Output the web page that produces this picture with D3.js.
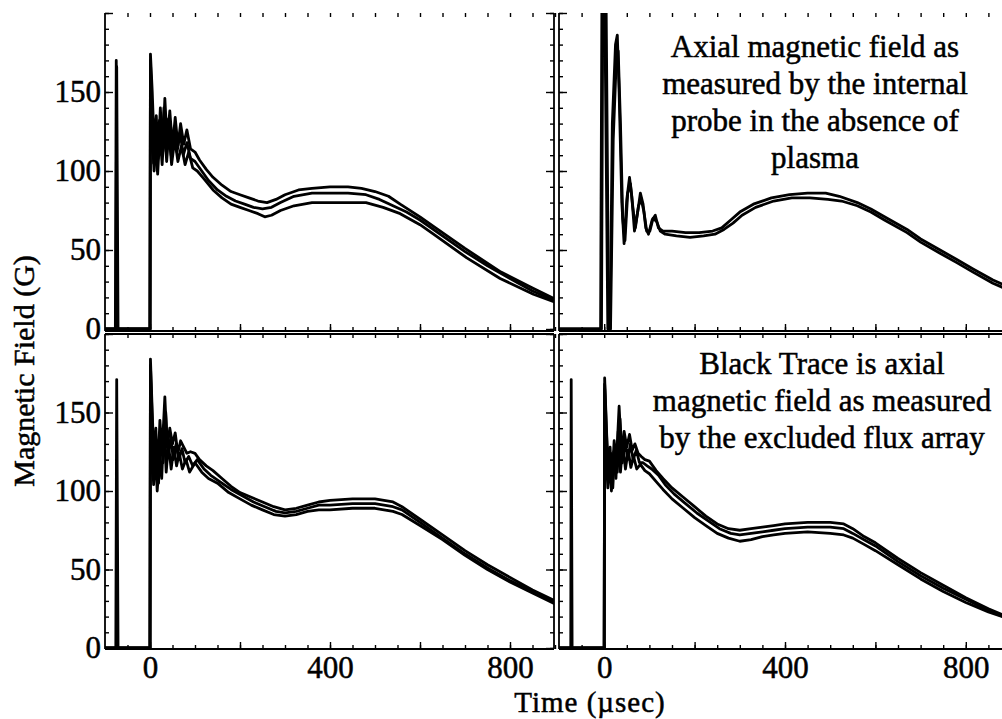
<!DOCTYPE html>
<html>
<head>
<meta charset="utf-8">
<script src="https://cdn.jsdelivr.net/npm/d3@7"></script>
<style>
  body { margin: 0; background: #fff; }
  svg { display: block; }
  .tick text { font-family: "Liberation Serif", "Times New Roman", serif; font-size: 31px; fill: #000; stroke: #000; stroke-width: 0.5; }
  .axis path { display: none; }
  .axis line { stroke: #000; stroke-width: 1.4; }
  .note { font-family: "Liberation Serif", "Times New Roman", serif; font-size: 31px; fill: #000; stroke: #000; stroke-width: 0.5; }
</style>
</head>
<body>
<div id="chart"></div>
<script>
// data: [time (usec), field (G)]
var yTicks = [0, 50, 100, 150];
var xTicks = [0, 400, 800];

var tlTraceA = [[-100,0],[-77,0],[-75,170],[-73,0],[0,0],[1,174],[5,150],[9,118],[14,135],[18,108],[23,140],[28,112],[33,146],[38,118],[44,138],[50,115],[56,134],[62,116],[68,130],[75,117],[82,126],[90,114],[100,112],[110,107],[125,101],[140,96],[160,91],[180,87],[200,85],[220,83],[240,81],[260,80],[280,82],[300,85],[330,88],[360,89],[400,90],[440,90],[470,89],[500,87],[530,84],[556,79],[600,71],[630,65],[700,51],[780,36],[850,26],[900,19]];
var tlTraceB = [[-100,0],[-76,0],[-74,166],[-71,0],[0,0],[1,170],[4,140],[8,105],[12,128],[16,100],[21,132],[26,110],[31,140],[36,112],[41,133],[47,110],[54,128],[60,112],[67,124],[74,110],[82,118],[90,108],[100,106],[115,100],[130,94],[150,88],[170,84],[190,81],[210,79],[230,77],[250,76],[270,77],[290,80],[320,84],[360,86],[400,86],[440,86],[480,85],[510,82],[540,78],[570,74],[600,69],[650,59],[700,49],[750,40],[800,32],[850,24],[900,18]];
var tlTraceC = [[-100,0],[0,0],[1,165],[5,125],[9,100],[13,120],[17,98],[22,125],[27,104],[32,130],[37,106],[42,125],[48,104],[55,120],[62,106],[70,116],[78,104],[86,112],[95,102],[105,100],[120,95],[140,88],[160,83],[180,79],[200,77],[220,75],[240,73],[255,71],[270,72],[290,75],[320,78],[360,80],[400,80],[440,80],[480,80],[518,77],[556,73],[600,66],[630,60],[704,45],[778,32],[852,22],[900,17]];

var trTraceA = [[-100,0],[-8,0],[-5,215],[1,215],[8,0],[13,0],[18,130],[25,180],[29,186],[33,150],[39,80],[44,54],[50,82],[56,96],[61,84],[67,62],[74,74],[80,86],[86,79],[92,64],[98,60],[106,69],[113,72],[120,64],[130,62],[150,62],[180,61],[210,61],[240,62],[260,64],[280,69],[300,74],[330,79],[370,83],[410,85],[450,86],[490,86],[520,84],[560,80],[590,76],[620,71],[670,63],[700,57],[743,50],[780,44],[816,38],[860,31],[900,26]];
var trTraceB = [[-100,0],[-6,0],[-3,215],[4,215],[10,0],[14,0],[20,120],[27,172],[31,176],[36,130],[41,70],[46,56],[52,86],[58,92],[63,78],[69,64],[76,78],[82,82],[88,74],[94,62],[101,62],[108,70],[116,68],[124,62],[135,60],[160,59],[190,58],[220,59],[245,60],[265,63],[285,67],[305,72],[335,77],[375,81],[415,83],[455,83],[495,82],[525,81],[560,78],[590,74],[620,69],[670,61],[700,55],[743,48],[780,42],[816,36],[860,29],[900,24]];

var blTraceA = [[-100,0],[-76,0],[-74,171],[-71,0],[0,0],[1,184],[5,150],[9,118],[13,140],[17,110],[22,145],[27,125],[33,160],[38,128],[44,140],[50,130],[56,137],[62,124],[68,132],[75,128],[82,124],[90,125],[100,124],[110,120],[125,116],[140,113],[160,108],[180,103],[200,99],[225,96],[250,93],[275,90],[300,88],[325,89],[350,91],[375,93],[400,94],[450,95],[500,95],[540,93],[560,90],[600,82],[650,72],[700,62],[750,53],[800,45],[850,37],[900,30]];
var blTraceB = [[-100,0],[0,0],[1,176],[4,130],[8,104],[12,125],[16,100],[21,120],[26,108],[31,142],[36,112],[41,130],[47,114],[53,128],[59,116],[65,124],[72,114],[80,120],[88,112],[100,118],[115,112],[130,108],[150,105],[175,99],[200,95],[225,91],[250,88],[275,85],[300,84],[325,85],[350,87],[375,88],[400,88],[450,89],[500,89],[540,87],[560,85],[600,78],[650,69],[700,59],[750,50],[800,42],[850,35],[900,28]];
var blTraceC = [[-100,0],[0,0],[1,180],[6,135],[10,112],[15,132],[19,105],[24,138],[29,118],[35,150],[40,122],[46,134],[52,120],[58,130],[64,120],[71,127],[78,118],[86,122],[95,116],[105,120],[120,114],[135,110],[155,106],[180,101],[205,97],[230,93],[255,90],[280,87],[300,86],[325,87],[350,89],[375,91],[400,91],[450,92],[500,92],[540,90],[560,88],[600,80],[650,70],[700,60],[750,51],[800,43],[850,36],[900,29]];

var brTraceA = [[-100,0],[-74,0],[-73,171],[-71,0],[0,0],[1,172],[5,140],[9,110],[13,128],[17,104],[22,132],[27,118],[33,154],[38,125],[44,138],[50,128],[56,136],[62,126],[68,130],[75,124],[82,122],[90,120],[100,119],[115,113],[130,108],[150,102],[175,96],[200,90],[225,84],[250,79],[275,76],[300,75],[325,76],[350,77],[375,78],[400,79],[450,80],[500,80],[530,79],[550,76],[575,71],[600,67],[650,57],[700,48],[750,40],[800,32],[850,25],[900,19]];
var brTraceB = [[-100,0],[0,0],[1,165],[4,125],[8,102],[12,120],[16,100],[21,125],[26,108],[31,138],[36,112],[41,130],[47,114],[53,126],[59,115],[65,122],[72,114],[80,117],[90,113],[100,111],[115,106],[130,101],[150,95],[175,89],[200,83],[225,78],[250,73],[275,70],[300,68],[325,69],[350,71],[375,72],[400,73],[450,74],[500,73],[530,72],[550,70],[575,66],[600,62],[650,53],[700,44],[750,36],[800,29],[850,23],[900,18]];
var brTraceC = [[-100,0],[0,0],[1,168],[6,130],[10,106],[15,124],[19,102],[24,128],[29,112],[35,146],[40,118],[46,132],[52,120],[58,130],[64,120],[71,126],[78,118],[86,118],[95,116],[105,114],[120,110],[135,104],[155,98],[180,92],[205,86],[230,81],[255,76],[280,73],[300,72],[325,73],[350,74],[375,75],[400,76],[450,77],[500,77],[530,76],[550,73],[575,69],[600,65],[650,55],[700,46],[750,38],[800,31],[850,24],[900,18]];

var noteTop = ["Axial magnetic field as", "measured by the internal", "probe in the absence of", "plasma"];
var noteBottom = ["Black Trace is axial", "magnetic field as measured", "by the excluded flux array"];

var svgWidth = 1002;
var svgHeight = 719;

var svg = d3.select("#chart")
    .append("svg")
    .attr("width", svgWidth)
    .attr("height", svgHeight);

// panel layout (pixels)
var panels = [
    { id: "tl", left: 105, right: 555, top: 13, bottom: 329, frameBottom: 331, traces: [tlTraceA, tlTraceB, tlTraceC], yLabels: true, xLabels: false, topFrame: false },
    { id: "tr", left: 559, right: 1011, top: 13, bottom: 329, frameBottom: 331, traces: [trTraceA, trTraceB], yLabels: false, xLabels: false, topFrame: false },
    { id: "bl", left: 105, right: 555, top: 334, bottom: 648, frameBottom: 649, traces: [blTraceA, blTraceB, blTraceC], yLabels: true, xLabels: true, topFrame: true },
    { id: "br", left: 559, right: 1011, top: 334, bottom: 648, frameBottom: 649, traces: [brTraceA, brTraceB, brTraceC], yLabels: false, xLabels: true, topFrame: true }
];

panels.forEach(function (p) {
    var x = d3.scaleLinear().domain([-100, 900]).range([p.left, p.right]);
    var y = d3.scaleLinear().domain([0, 200]).range([p.bottom, p.top]);
    var frameRight = p.left === 105 ? 554 : 1011;

    var g = svg.append("g");

    svg.append("clipPath")
        .attr("id", "clip-" + p.id)
        .append("rect")
        .attr("x", p.left)
        .attr("y", p.top)
        .attr("width", frameRight - p.left)
        .attr("height", p.frameBottom - p.top);

    // frame
    g.append("line").attr("x1", p.left).attr("x2", p.left).attr("y1", p.top).attr("y2", p.frameBottom)
        .attr("stroke", "#000").attr("stroke-width", 1.8);
    g.append("line").attr("x1", frameRight).attr("x2", frameRight).attr("y1", p.top).attr("y2", p.frameBottom)
        .attr("stroke", "#000").attr("stroke-width", 1.8);
    g.append("line").attr("x1", p.left).attr("x2", frameRight).attr("y1", p.frameBottom).attr("y2", p.frameBottom)
        .attr("stroke", "#000").attr("stroke-width", 1.8);
    if (p.topFrame) {
        g.append("line").attr("x1", p.left).attr("x2", frameRight).attr("y1", p.top).attr("y2", p.top)
            .attr("stroke", "#000").attr("stroke-width", 1.8);
    }

    // y axis minor + major ticks on left edge (inward)
    g.append("g").attr("class", "axis")
        .attr("transform", `translate(${p.left}, 0)`)
        .call(d3.axisLeft(y).tickValues(d3.range(0, 201, 10)).tickSize(-4).tickFormat(""));
    g.append("g").attr("class", "axis")
        .attr("transform", `translate(${p.left}, 0)`)
        .call(d3.axisLeft(y).tickValues(d3.range(0, 201, 50)).tickSize(-8).tickFormat(""));
    // ticks on right edge (inward)
    g.append("g").attr("class", "axis")
        .attr("transform", `translate(${frameRight}, 0)`)
        .call(d3.axisRight(y).tickValues(d3.range(0, 201, 10)).tickSize(-4).tickFormat(""));
    g.append("g").attr("class", "axis")
        .attr("transform", `translate(${frameRight}, 0)`)
        .call(d3.axisRight(y).tickValues(d3.range(0, 201, 50)).tickSize(-8).tickFormat(""));

    if (p.yLabels) {
        g.append("g").attr("class", "axis")
            .attr("transform", `translate(${p.left}, 0)`)
            .call(d3.axisLeft(y).tickValues(yTicks).tickSize(0).tickPadding(4));
    }

    // x ticks at bottom
    g.append("g").attr("class", "axis")
        .attr("transform", `translate(0, ${p.frameBottom})`)
        .call(d3.axisBottom(x).tickValues(d3.range(-50, 901, 50)).tickSize(-4).tickFormat(""));
    g.append("g").attr("class", "axis")
        .attr("transform", `translate(0, ${p.frameBottom})`)
        .call(d3.axisBottom(x).tickValues(d3.range(0, 901, 200)).tickSize(-7).tickFormat(""));
    // x ticks at top
    g.append("g").attr("class", "axis")
        .attr("transform", `translate(0, ${p.top})`)
        .call(d3.axisTop(x).tickValues(d3.range(-50, 901, 50)).tickSize(-4).tickFormat(""));

    if (p.xLabels) {
        g.append("g").attr("class", "axis")
            .attr("transform", `translate(0, ${p.frameBottom})`)
            .call(d3.axisBottom(x).tickValues(xTicks).tickSize(0).tickPadding(7));
    }

    var line = d3.line()
        .x(d => x(d[0]))
        .y(d => y(d[1]));

    g.append("g")
        .attr("clip-path", `url(#clip-${p.id})`)
        .selectAll("path.trace")
        .data(p.traces)
        .enter()
        .append("path")
        .attr("class", "trace")
        .attr("d", line)
        .attr("fill", "none")
        .attr("stroke", "#000")
        .attr("stroke-width", 2.8)
        .attr("stroke-linejoin", "round");
});

// annotations
svg.append("text")
    .attr("class", "note")
    .attr("text-anchor", "middle")
    .selectAll("tspan")
    .data(noteTop)
    .enter()
    .append("tspan")
    .attr("x", 815)
    .attr("y", (d, i) => 57 + i * 37)
    .text(d => d);

svg.append("text")
    .attr("class", "note")
    .attr("text-anchor", "middle")
    .selectAll("tspan")
    .data(noteBottom)
    .enter()
    .append("tspan")
    .attr("x", 822)
    .attr("y", (d, i) => 374 + i * 37)
    .text(d => d);

// axis titles
svg.append("text")
    .attr("class", "note")
    .attr("text-anchor", "middle")
    .attr("transform", "translate(34, 371) rotate(-90)")
    .style("font-size", "30px")
    .text("Magnetic Field (G)");

svg.append("text")
    .attr("class", "note")
    .attr("text-anchor", "middle")
    .attr("x", 590)
    .attr("y", 712)
    .style("font-size", "29px")
    .style("letter-spacing", "1px")
    .text("Time (\u00b5sec)");
</script>
</body>
</html>
